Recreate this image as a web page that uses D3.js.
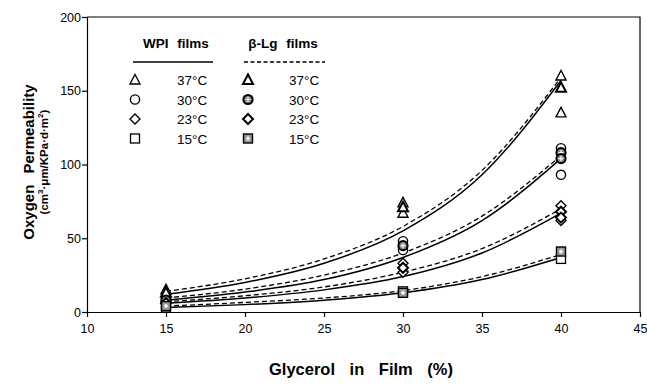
<!DOCTYPE html>
<html>
<head>
<meta charset="utf-8">
<script src="https://cdn.jsdelivr.net/npm/d3@7"></script>
<style>
  body { margin: 0; background: #fff; }
  text { font-family: "Liberation Sans", Arial, sans-serif; fill: #000; }
</style>
</head>
<body>
<div class="canvas"></div>
<script>
// data
const temps = ["37°C", "30°C", "23°C", "15°C"];
const shapes = ["triangle", "circle", "diamond", "square"];
const xTicks = [10, 15, 20, 25, 30, 35, 40, 45];
const yTicks = [0, 50, 100, 150, 200];

// measured points [glycerol %, permeability]
const wpi37 = [[15, 15], [30, 74], [30, 67], [40, 160], [40, 135]];
const lg37 = [[15, 13], [30, 71], [40, 152]];
const wpi30 = [[15, 9], [30, 48], [30, 42], [40, 111], [40, 93]];
const lg30 = [[15, 8], [30, 45], [40, 108], [40, 104]];
const wpi23 = [[15, 7], [30, 33], [30, 27], [40, 72], [40, 62]];
const lg23 = [[15, 6], [30, 30], [40, 68], [40, 64]];
const wpi15 = [[15, 3], [30, 14], [40, 36]];
const lg15 = [[15, 4], [30, 13], [40, 41]];

// fitted curves, read at these x positions
const curveX = [15, 20, 25, 30, 35, 40];
const wpiFit37 = [12, 20, 33, 55, 93, 157];
const lgFit37 = [14, 22.5, 36, 58, 96, 159];
const wpiFit30 = [8, 13.5, 22, 37, 62, 104];
const lgFit30 = [9.5, 15.5, 25, 40, 65, 106];
const wpiFit23 = [6, 9.5, 15, 24, 40, 67];
const lgFit23 = [7, 11, 17, 27, 43, 70];
const wpiFit15 = [3, 5, 8, 13, 22, 37];
const lgFit15 = [4, 6.5, 9.5, 14.5, 24, 39];

const wpiPoints = [wpi37, wpi30, wpi23, wpi15];
const lgPoints = [lg37, lg30, lg23, lg15];
const wpiFits = [wpiFit37, wpiFit30, wpiFit23, wpiFit15];
const lgFits = [lgFit37, lgFit30, lgFit23, lgFit15];

const w = 647, h = 386;
const svg = d3.select(".canvas").append("svg").attr("width", w).attr("height", h);

const x = d3.scaleLinear().domain([10, 45]).range([87, 640]);
const y = d3.scaleLinear().domain([0, 200]).range([312, 17]);

// frame: top and right edges
svg.append("path")
  .attr("d", `M${x(10)},${y(200)}H${x(45)}V${y(0)}`)
  .attr("fill", "none").attr("stroke", "#000").attr("stroke-width", 1.2);

// axes
const xAxis = svg.append("g")
  .attr("transform", `translate(0,${y(0)})`)
  .call(d3.axisBottom(x).tickValues(xTicks).tickSize(5).tickSizeOuter(0));
const yAxis = svg.append("g")
  .attr("transform", `translate(${x(10)},0)`)
  .call(d3.axisLeft(y).tickValues(yTicks).tickSize(5).tickSizeOuter(0));
[xAxis, yAxis].forEach(g => {
  g.select(".domain").attr("stroke-width", 1.2);
  g.selectAll(".tick line").attr("stroke-width", 1.2);
  g.selectAll(".tick text").attr("font-size", 12.5).attr("font-family", "Liberation Sans, Arial, sans-serif");
});
xAxis.selectAll(".tick text").attr("dy", "0.95em").attr("y", 9);
yAxis.selectAll(".tick text").attr("x", -6);

// axis titles
svg.append("text")
  .attr("x", 361).attr("y", 375)
  .attr("text-anchor", "middle")
  .attr("font-size", 16.5).attr("font-weight", "bold")
  .attr("word-spacing", "10px")
  .text("Glycerol in Film (%)");

const yt = svg.append("g").attr("transform", "translate(34,162) rotate(-90)");
yt.append("text")
  .attr("text-anchor", "middle")
  .attr("font-size", 15).attr("font-weight", "bold")
  .attr("word-spacing", "7px")
  .text("Oxygen Permeability");
const sub = yt.append("text")
  .attr("y", 14)
  .attr("text-anchor", "middle")
  .attr("font-size", 11.5).attr("font-weight", "bold");
sub.append("tspan").text("(cm");
sub.append("tspan").attr("font-size", 8).attr("dy", -5).text("3");
sub.append("tspan").attr("dy", 5).text("·μm/KPa·d·m");
sub.append("tspan").attr("font-size", 8).attr("dy", -5).text("2");
sub.append("tspan").attr("dy", 5).text(")");

// fitted curves
const line = d3.line()
  .x((d, i) => x(curveX[i]))
  .y(d => y(d))
  .curve(d3.curveMonotoneX);

wpiFits.forEach(s => {
  svg.append("path").attr("d", line(s))
    .attr("fill", "none").attr("stroke", "#000").attr("stroke-width", 1.5);
});
lgFits.forEach(s => {
  svg.append("path").attr("d", line(s))
    .attr("fill", "none").attr("stroke", "#000").attr("stroke-width", 1.3)
    .attr("stroke-dasharray", "5,3");
});

// marker drawing
function marker(g, shape, cx, cy, filled) {
  const sw = filled ? 2 : 1.4;
  if (shape === "triangle") {
    g.append("path")
      .attr("d", `M${cx},${cy - 5.5}L${cx + 5},${cy + 4}L${cx - 5},${cy + 4}Z`)
      .attr("fill", "#fff").attr("stroke", "#000").attr("stroke-width", sw);
  } else if (shape === "circle") {
    g.append("circle").attr("cx", cx).attr("cy", cy).attr("r", 4.6)
      .attr("fill", filled ? "#888" : "#fff").attr("stroke", "#000").attr("stroke-width", sw);
    if (filled) {
      g.append("path")
        .attr("d", `M${cx - 2.5},${cy}H${cx + 2.5}M${cx},${cy - 2.5}V${cy + 2.5}`)
        .attr("stroke", "#fff").attr("stroke-width", 1.2);
    }
  } else if (shape === "diamond") {
    g.append("path")
      .attr("d", `M${cx},${cy - 5}L${cx + 5},${cy}L${cx},${cy + 5}L${cx - 5},${cy}Z`)
      .attr("fill", "#fff").attr("stroke", "#000").attr("stroke-width", sw);
  } else {
    g.append("rect").attr("x", cx - 4.5).attr("y", cy - 4.5).attr("width", 9).attr("height", 9)
      .attr("fill", filled ? "#999" : "#fff").attr("stroke", "#000").attr("stroke-width", filled ? 1.4 : 1.3);
    if (filled) {
      g.append("path")
        .attr("d", `M${cx - 2},${cy}H${cx + 2}M${cx},${cy - 2}V${cy + 2}`)
        .attr("stroke", "#fff").attr("stroke-width", 1.5);
    }
  }
}

// data points
const pts = svg.append("g");
wpiPoints.forEach((s, i) => s.forEach(d => marker(pts, shapes[i], x(d[0]), y(d[1]), false)));
lgPoints.forEach((s, i) => s.forEach(d => marker(pts, shapes[i], x(d[0]), y(d[1]), true)));

// legend
const legend = svg.append("g");
legend.append("text").attr("x", 176).attr("y", 48).attr("text-anchor", "middle")
  .attr("font-size", 13.5).attr("font-weight", "bold").attr("word-spacing", "5px").text("WPI films");
legend.append("text").attr("x", 283).attr("y", 48).attr("text-anchor", "middle")
  .attr("font-size", 13.5).attr("font-weight", "bold").attr("word-spacing", "5px").text("β-Lg films");
legend.append("line").attr("x1", 133).attr("x2", 213).attr("y1", 62).attr("y2", 62)
  .attr("stroke", "#000").attr("stroke-width", 1.5);
legend.append("line").attr("x1", 244).attr("x2", 325).attr("y1", 62).attr("y2", 62)
  .attr("stroke", "#000").attr("stroke-width", 1.3).attr("stroke-dasharray", "4,2.5");

temps.forEach((t, i) => {
  const ly = 80 + i * 19.5;
  marker(legend, shapes[i], 135, ly, false);
  marker(legend, shapes[i], 248, ly, true);
  legend.append("text").attr("x", 177).attr("y", ly + 5).attr("font-size", 13.5).text(t);
  legend.append("text").attr("x", 289).attr("y", ly + 5).attr("font-size", 13.5).text(t);
});
</script>
</body>
</html>
